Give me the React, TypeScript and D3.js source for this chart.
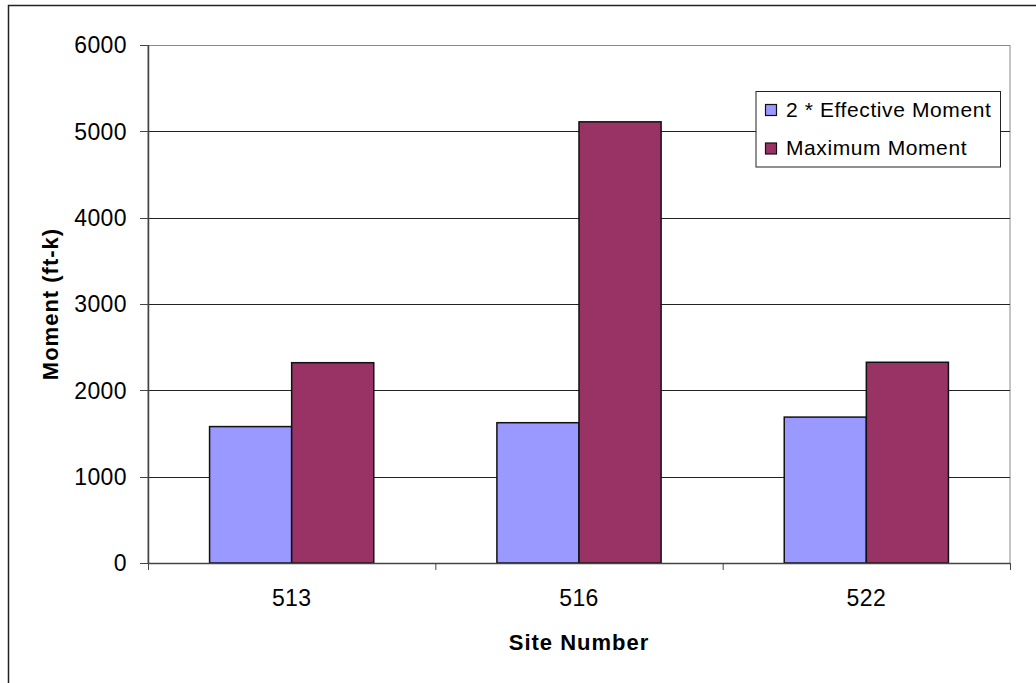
import React from "react";
import * as d3 from "d3";

const categories = ["513", "516", "522"];
const seriesNames = ["2 * Effective Moment", "Maximum Moment"];
const effectiveMoment2x = [1580, 1625, 1690];
const maximumMoment = [2320, 5110, 2325];
const yTicks = [0, 1000, 2000, 3000, 4000, 5000, 6000];
const seriesColors = ["#9999FF", "#993366"];

const W = 1036;
const H = 683;
const plot = { left: 148, right: 1010, top: 45, bottom: 563 };
const FONT = "Arial, 'Liberation Sans', sans-serif";

export default function App() {
  const x0 = d3
    .scaleBand<string>()
    .domain(categories)
    .range([plot.left, plot.right])
    .paddingInner(0)
    .paddingOuter(0);
  const y = d3.scaleLinear().domain([0, 6000]).range([plot.bottom, plot.top]);

  // two bars per category, 150% gap width between groups
  const barW = x0.bandwidth() / 3.5;
  const series = [effectiveMoment2x, maximumMoment];

  const boundaries = [...categories.map((c) => x0(c)!), plot.right];

  return (
    <div style={{ position: "absolute", left: 0, top: 0 }}>
      <svg width={W} height={H} style={{ display: "block", background: "#fff" }}>
        {/* chart area frame */}
        <rect x={8.5} y={5.5} width={1040} height={720} fill="#fff" stroke="#222" strokeWidth={1.5} />

        {/* plot area frame */}
        <rect
          x={plot.left}
          y={plot.top + 0.5}
          width={plot.right - plot.left}
          height={plot.bottom - plot.top}
          fill="#fff"
          stroke="#8a8a8a"
          strokeWidth={1}
        />

        {/* gridlines */}
        {yTicks.slice(1).map((t) => (
          <line
            key={"g" + t}
            x1={plot.left}
            x2={plot.right}
            y1={Math.round(y(t)) + 0.5}
            y2={Math.round(y(t)) + 0.5}
            stroke={t === 6000 ? "#8a8a8a" : "#222"}
            strokeWidth={1}
          />
        ))}

        {/* bars */}
        {categories.map((c, i) =>
          series.map((vals, s) => {
            const bx = x0(c)! + 0.75 * barW + s * barW;
            const by = y(vals[i]);
            return (
              <rect
                key={c + s}
                x={bx}
                y={by}
                width={barW}
                height={y(0) - by}
                fill={seriesColors[s]}
                stroke="#111"
                strokeWidth={1.5}
              />
            );
          })
        )}

        {/* axes */}
        <line x1={plot.left + 0.5} x2={plot.left + 0.5} y1={plot.top} y2={plot.bottom} stroke="#444" strokeWidth={1.5} />
        <line x1={plot.left} x2={plot.right} y1={plot.bottom + 0.5} y2={plot.bottom + 0.5} stroke="#444" strokeWidth={1.5} />

        {yTicks.map((t) => (
          <g key={"yt" + t}>
            <line x1={140} x2={plot.left} y1={Math.round(y(t)) + 0.5} y2={Math.round(y(t)) + 0.5} stroke="#444" strokeWidth={1} />
            <text
              x={127}
              y={y(t)}
              dy="0.36em"
              textAnchor="end"
              fontFamily={FONT}
              fontSize={23}
              letterSpacing={0.4}
              fill="#000"
            >
              {t}
            </text>
          </g>
        ))}

        {boundaries.map((bx, i) => (
          <line key={"xt" + i} x1={bx + 0.5} x2={bx + 0.5} y1={plot.bottom} y2={plot.bottom + 7} stroke="#444" strokeWidth={1} />
        ))}

        {categories.map((c) => (
          <text
            key={"xl" + c}
            x={x0(c)! + x0.bandwidth() / 2}
            y={606}
            textAnchor="middle"
            fontFamily={FONT}
            fontSize={23}
            letterSpacing={0.4}
            fill="#000"
          >
            {c}
          </text>
        ))}

        {/* axis titles */}
        <text
          x={(plot.left + plot.right) / 2}
          y={650}
          textAnchor="middle"
          fontFamily={FONT}
          fontSize={22}
          fontWeight="bold"
          letterSpacing={1}
          fill="#000"
        >
          Site Number
        </text>
        <text
          transform={`translate(58, ${(plot.top + plot.bottom) / 2}) rotate(-90)`}
          textAnchor="middle"
          fontFamily={FONT}
          fontSize={22}
          fontWeight="bold"
          letterSpacing={1}
          fill="#000"
        >
          Moment (ft-k)
        </text>

        {/* legend */}
        <rect x={756} y={91.5} width={244.5} height={75.5} fill="#fff" stroke="#222" strokeWidth={1} />
        {seriesNames.map((name, i) => (
          <g key={"lg" + i}>
            <rect
              x={765.5}
              y={104.5 + i * 38.5}
              width={11}
              height={11}
              fill={seriesColors[i]}
              stroke="#111"
              strokeWidth={1.2}
            />
            <text x={786} y={117 + i * 38} fontFamily={FONT} fontSize={21} letterSpacing={0.6} fill="#000">
              {name}
            </text>
          </g>
        ))}
      </svg>
    </div>
  );
}
